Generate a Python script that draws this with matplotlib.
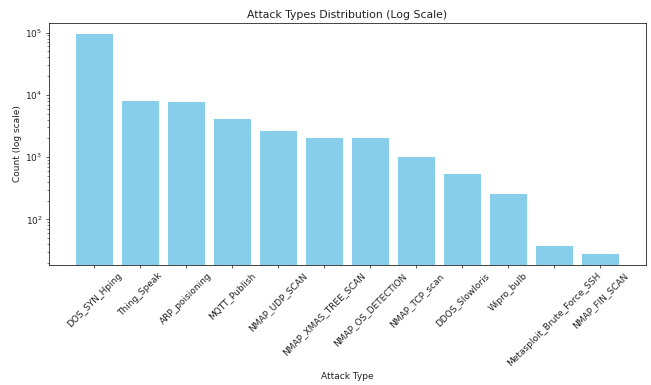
import matplotlib
matplotlib.use("Agg")
import matplotlib.pyplot as plt

attack_types = [
    "DOS_SYN_Hping", "Thing_Speak", "ARP_poisioning", "MQTT_Publish",
    "NMAP_UDP_SCAN", "NMAP_XMAS_TREE_SCAN", "NMAP_OS_DETECTION",
    "NMAP_TCP_scan", "DDOS_Slowloris", "Wipro_bulb",
    "Metasploit_Brute_Force_SSH", "NMAP_FIN_SCAN",
]
counts = [94659, 8108, 7750, 4146, 2590, 2010, 2000, 1002, 534, 253, 37, 28]

DPI = 65
plt.rcParams["text.color"] = "#222222"
plt.rcParams["axes.labelcolor"] = "#222222"
plt.rcParams["xtick.color"] = "#222222"
plt.rcParams["ytick.color"] = "#222222"
fig = plt.figure(figsize=(651 / DPI, 385 / DPI), dpi=DPI)
ax = fig.add_axes([0.075, 0.312, 0.917, 0.628])

ax.bar(attack_types, counts, color="skyblue")
ax.set_yscale("log")
ax.set_title("Attack Types Distribution (Log Scale)")
ax.set_xlabel("Attack Type")
ax.set_ylabel("Count (log scale)")
plt.setp(ax.get_xticklabels(), rotation=45)

fig.savefig("out.png", dpi=DPI)
